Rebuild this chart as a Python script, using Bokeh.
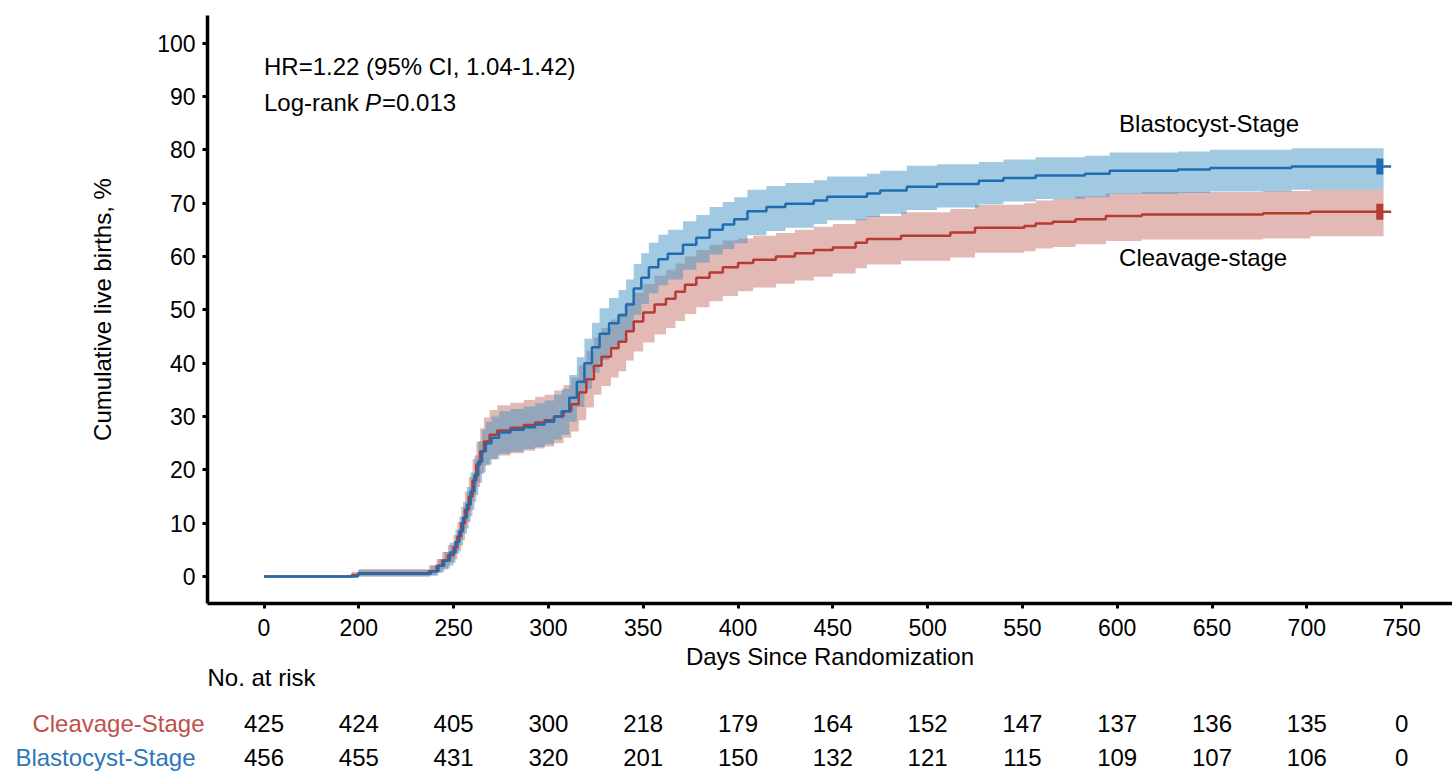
import numpy as np
from bokeh.plotting import figure
from bokeh.models import Range1d, FixedTicker, ColumnDataSource, LinearAxis
from bokeh.embed import file_html
from bokeh.resources import INLINE
from bokeh.core.properties import value

# ---------------- data ----------------
tick_days = [0, 200, 250, 300, 350, 400, 450, 500, 550, 600, 650, 700, 750]
y_ticks = [0, 10, 20, 30, 40, 50, 60, 70, 80, 90, 100]
groups = ["Cleavage-Stage", "Blastocyst-Stage"]
at_risk_cleavage = [425, 424, 405, 300, 218, 179, 164, 152, 147, 137, 136, 135, 0]
at_risk_blastocyst = [456, 455, 431, 320, 201, 150, 132, 121, 115, 109, 107, 106, 0]

# Blastocyst-stage cumulative live births (%), step curve with 95% CI
blast_day = [0, 198, 238, 242, 245, 248, 251, 253, 255, 257,
             259, 261, 263, 265, 267, 270, 274, 280, 287, 293,
             298, 303, 307, 311, 315, 319, 323, 327, 332, 337,
             341, 345, 349, 353, 358, 363, 371, 378, 385, 392,
             398, 405, 415, 425, 440, 447, 468, 475, 489, 505,
             527, 540, 557, 583, 596, 632, 649, 692]
blast_pct = [0, 0.5, 1.0, 2.0, 3.0, 4.5, 6.5, 8.5, 11.0, 13.5,
             16.0, 19.0, 21.5, 23.5, 25.0, 26.0, 27.0, 27.5, 28.0, 28.5,
             29.0, 30.0, 31.0, 33.5, 36.5, 40.0, 43.0, 45.5, 47.5, 49.0,
             51.0, 54.0, 56.0, 58.0, 59.5, 60.5, 62.2, 63.5, 65.0, 66.0,
             67.0, 68.5, 69.3, 69.9, 70.5, 71.2, 71.8, 72.4, 73.1, 73.6,
             74.2, 74.7, 75.2, 75.5, 76.1, 76.3, 76.6, 76.9]
blast_lo = [0, 0, 0.2, 0.8, 1.5, 2.6, 4.2, 5.8, 8.0, 10.2,
            12.5, 15.3, 17.6, 19.5, 21.0, 22.0, 23.0, 23.4, 23.9, 24.3,
            24.8, 25.7, 26.6, 29.0, 31.8, 35.2, 38.2, 40.6, 42.7, 44.1,
            46.1, 49.1, 51.1, 53.1, 54.6, 55.7, 57.5, 58.9, 60.4, 61.4,
            62.5, 64.0, 64.8, 65.4, 66.1, 66.8, 67.4, 68.0, 68.7, 69.2,
            69.8, 70.3, 70.8, 71.1, 71.7, 71.9, 72.2, 72.5]
blast_hi = [0, 1.2, 2.0, 3.3, 4.6, 6.4, 8.8, 11.2, 14.0, 16.8,
            19.5, 22.7, 25.4, 27.5, 29.0, 30.0, 31.0, 31.4, 31.9, 32.5,
            33.0, 34.1, 35.2, 37.8, 41.1, 44.6, 47.6, 50.3, 52.2, 53.7,
            55.7, 58.6, 60.6, 62.6, 64.1, 65.0, 66.6, 67.8, 69.3, 70.2,
            71.1, 72.5, 73.2, 73.8, 74.3, 75.0, 75.5, 76.1, 77.0, 77.3,
            77.7, 78.2, 78.6, 78.9, 79.5, 79.7, 80.0, 80.3]

# Cleavage-stage cumulative live births (%), step curve with 95% CI
cleav_day = [0, 185, 200, 237, 241, 244, 247, 250, 252, 254,
             256, 258, 260, 262, 264, 266, 269, 273, 280, 287,
             293, 298, 303, 308, 312, 316, 320, 324, 328, 333,
             337, 341, 345, 350, 356, 362, 367, 372, 378, 385,
             392, 400, 408, 420, 430, 440, 450, 462, 468, 486,
             512, 525, 551, 557, 566, 578, 594, 613, 677, 702]
cleav_pct = [0, 0.3, 0.6, 1.0, 2.0, 3.0, 4.0, 5.5, 7.5, 10.0,
             12.5, 15.0, 18.0, 21.0, 23.5, 25.3, 26.6, 27.4, 27.9, 28.4,
             28.9, 29.3, 30.0, 31.0, 32.3, 34.5, 37.0, 39.5, 41.2, 42.8,
             44.0, 46.0, 47.8, 49.5, 51.0, 52.1, 53.4, 54.7, 56.0, 57.0,
             58.0, 58.8, 59.4, 60.0, 60.6, 61.2, 61.7, 62.6, 63.3, 63.9,
             64.5, 65.4, 65.7, 66.2, 66.5, 67.0, 67.6, 67.9, 68.1, 68.4]
cleav_lo = [0, 0, 0, 0.2, 0.7, 1.3, 2.0, 3.2, 4.8, 6.8,
            9.0, 11.3, 14.0, 16.8, 19.2, 20.8, 22.0, 22.7, 23.1, 23.6,
            24.0, 24.4, 25.0, 26.0, 27.2, 29.3, 31.7, 34.1, 35.7, 37.3,
            38.5, 40.5, 42.2, 43.9, 45.4, 46.6, 47.9, 49.2, 50.5, 51.6,
            52.6, 53.5, 54.2, 54.9, 55.5, 56.2, 56.8, 57.8, 58.5, 59.2,
            59.8, 60.7, 61.0, 61.5, 61.8, 62.3, 62.9, 63.2, 63.4, 63.8]
cleav_hi = [0, 0.9, 1.4, 2.1, 3.3, 4.6, 5.9, 7.8, 10.2, 13.1,
            15.9, 18.7, 22.0, 25.2, 27.8, 29.8, 31.2, 32.1, 32.6, 33.1,
            33.7, 34.1, 34.9, 35.9, 37.3, 39.6, 42.3, 44.8, 46.6, 48.2,
            49.4, 51.4, 53.2, 54.9, 56.4, 57.5, 58.7, 60.0, 61.2, 62.2,
            63.0, 63.4, 63.9, 64.4, 65.0, 65.6, 66.1, 67.0, 67.6, 68.3,
            68.9, 69.7, 70.0, 70.5, 70.8, 71.3, 71.8, 72.1, 72.3, 72.5]

censor_day = 738.5      # last censoring mark
band_end_day = 740.5    # end of confidence band
line_end_day = 744.5    # end of the step line

hr_text = "HR=1.22 (95% CI, 1.04-1.42)"
p_text = ["Log-rank ", "P", "=0.013"]

# ---------------- styling / layout ----------------
FONT = "Liberation Sans"
BLUE_LINE, RED_LINE = "#1f6db0", "#b43c30"
BLUE_FILL, RED_FILL = "#4393c3", "#b65043"
BLUE_TXT, RED_TXT = "#2e78b8", "#c0504d"

FIG_W, FIG_H = 1452, 774
AX_LEFT, AX_TOP, AX_BOTTOM = 207, 15, 603     # plot-area edges (page px)
PX_PER_DAY = 1.896
X0 = 150 - 56.5 / PX_PER_DAY                  # broken axis: "0" sits at 150
X1 = X0 + (FIG_W - AX_LEFT) / PX_PER_DAY
Y0, Y1 = -5.06, 105.19
PX_PER_PCT = (AX_BOTTOM - AX_TOP) / (Y1 - Y0)

XR = Range1d(X0 - AX_LEFT / PX_PER_DAY, X1)
YR = Range1d(Y1 - (FIG_H - AX_TOP) / PX_PER_PCT, Y1 + AX_TOP / PX_PER_PCT)


def axis_pos(d):
    """Broken x axis: 0-200 days compressed into one 50-day slot."""
    d = np.asarray(d, dtype=float)
    return np.where(d < 200, 150 + d / 4.0, d)


def row_val(page_y):
    """Vertical page-pixel position expressed in y-data units."""
    return Y1 - (page_y - AX_TOP) / PX_PER_PCT


p = figure(frame_width=FIG_W, frame_height=FIG_H, min_border=0,
           x_range=XR, y_range=YR, x_axis_type=None, y_axis_type=None,
           output_backend="svg", toolbar_location=None,
           outline_line_color=None, background_fill_color="white",
           border_fill_color="white")

tick_pos = [float(v) for v in axis_pos(tick_days)]
xaxis = LinearAxis(fixed_location=Y0, bounds=(X0, X1),
                   ticker=FixedTicker(ticks=tick_pos),
                   major_label_overrides={tp: str(td) for tp, td in zip(tick_pos, tick_days)},
                   axis_label="Days Since Randomization")
yaxis = LinearAxis(fixed_location=X0, bounds=(Y0, Y1),
                   ticker=FixedTicker(ticks=y_ticks),
                   axis_label="Cumulative live births, %")
for a in (xaxis, yaxis):
    a.axis_line_width = 3.5
    a.axis_line_color = "black"
    a.major_tick_line_width = 3
    a.major_tick_line_color = "black"
    a.major_tick_in = 0
    a.major_tick_out = 5
    a.minor_tick_line_color = None
    a.major_label_text_font = FONT
    a.major_label_text_font_size = "23px"
    a.major_label_text_color = "black"
    a.axis_label_text_font = FONT
    a.axis_label_text_font_size = "24px"
    a.axis_label_text_font_style = "normal"
    a.axis_label_text_color = "black"
xaxis.major_label_standoff = 10
xaxis.axis_label_standoff = 4
yaxis.major_label_standoff = 7
yaxis.axis_label_standoff = 38
p.add_layout(xaxis, "below")
p.add_layout(yaxis, "left")


def band_source(day, lo, hi):
    return ColumnDataSource(dict(x=axis_pos(list(day) + [band_end_day]),
                                 lo=list(lo) + [lo[-1]],
                                 hi=list(hi) + [hi[-1]]))


def line_source(day, pct):
    return ColumnDataSource(dict(x=axis_pos(list(day) + [line_end_day]),
                                 y=list(pct) + [pct[-1]]))


p.varea_step(x="x", y1="lo", y2="hi", step_mode="after",
             source=band_source(cleav_day, cleav_lo, cleav_hi),
             fill_color=RED_FILL, fill_alpha=0.4)
p.varea_step(x="x", y1="lo", y2="hi", step_mode="after",
             source=band_source(blast_day, blast_lo, blast_hi),
             fill_color=BLUE_FILL, fill_alpha=0.5)

p.step(x="x", y="y", mode="after", source=line_source(cleav_day, cleav_pct),
       line_color=RED_LINE, line_width=2.5)
p.step(x="x", y="y", mode="after", source=line_source(blast_day, blast_pct),
       line_color=BLUE_LINE, line_width=2.5)

# censoring marks at end of follow-up
p.rect(x=axis_pos([censor_day, censor_day]), y=[cleav_pct[-1], blast_pct[-1]],
       width=7, height=16, width_units="screen", height_units="screen",
       fill_color=[RED_LINE, BLUE_LINE], line_color=None)

# annotation texts
p.text(x=[150], y=[95.7], text=[hr_text], text_font=value(FONT),
       text_font_size="24px", text_baseline="middle", text_align="left",
       text_color="black")
p.text(x=[150, 150, 150], y=[88.8, 88.8, 88.8], text=p_text,
       x_offset=[0, 101, 118], text_font=value(FONT), text_font_size="24px",
       text_font_style=["normal", "italic", "normal"],
       text_baseline="middle", text_align="left", text_color="black")

p.text(x=[601, 601], y=[84.9, 59.9], text=["Blastocyst-Stage", "Cleavage-stage"],
       text_font=value(FONT), text_font_size="24px", text_baseline="middle",
       text_align="left", text_color="black")

# ---------------- number at risk table (below the x axis) ----------------
HEADER_V = row_val(677)
ROW_V = [row_val(723), row_val(757)]

p.text(x=[X0], y=[HEADER_V], text=["No. at risk"], text_font=value(FONT),
       text_font_size="24px", text_baseline="middle", text_align="left",
       text_color="black")
p.text(x=[X0, X0], y=ROW_V, x_offset=[-3, -12], text=groups,
       text_font=value(FONT), text_font_size="24px", text_baseline="middle",
       text_align="right", text_color=[RED_TXT, BLUE_TXT])

risk_src = ColumnDataSource(dict(
    x=tick_pos + tick_pos,
    y=[ROW_V[0]] * len(tick_pos) + [ROW_V[1]] * len(tick_pos),
    text=[str(c) for c in at_risk_cleavage + at_risk_blastocyst]))
p.text(x="x", y="y", text="text", source=risk_src,
       text_font=value(FONT), text_font_size="24px",
       text_align="center", text_baseline="middle", text_color="black")

open("out.html", "w").write(file_html(p, INLINE))
